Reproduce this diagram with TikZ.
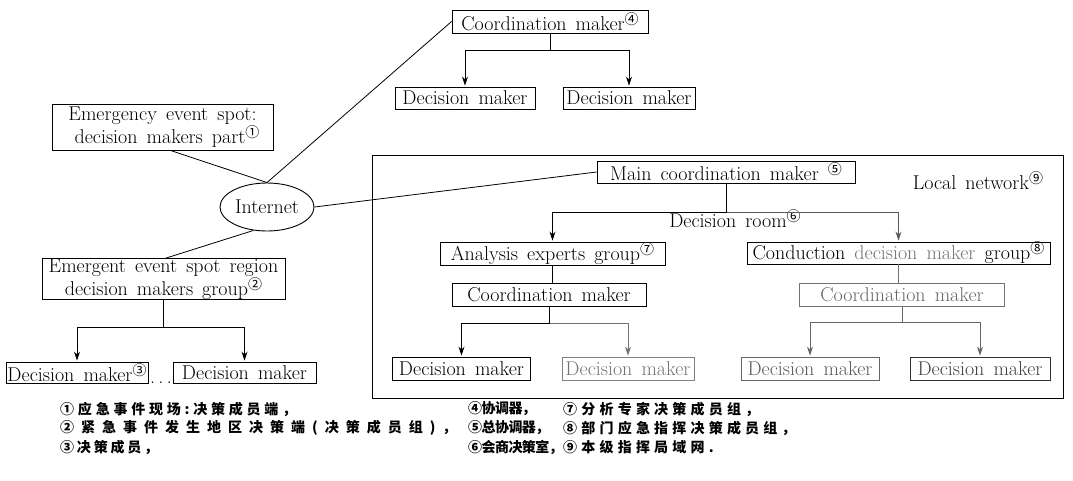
\documentclass[tikz,border=0pt]{standalone}
\usepackage{fontspec}
\setmainfont{Latin Modern Roman}[WordSpace=1.5]
\newfontfamily\dejavu{DejaVu Sans}
\newfontfamily\cjk{Noto Sans CJK SC}
\usetikzlibrary{arrows.meta,calc,shapes.geometric}
\newcommand\cnum[1]{\raisebox{0.3em}{\cjk\fontsize{14}{14}\selectfont #1}}
\newcommand\lsp[1]{\addfontfeature{LetterSpace=#1}}
\begin{document}
\begin{tikzpicture}[x=1pt,y=-1pt,
  every node/.style={font=\fontsize{20}{20}\selectfont},
  box/.style={draw, line width=0.9pt, inner sep=0pt},
  arr/.style={-{Stealth[length=9pt,width=6pt]}, line width=0.9pt, shorten >=1pt},
  ln/.style={line width=0.8pt},
  leg/.style={anchor=west, inner sep=0pt, font=\cjk\bfseries\fontsize{14}{14}\selectfont}]
\useasboundingbox (0,0) rectangle (1073,480);

% top group
\node[box, minimum width=196pt, minimum height=23pt] (c4) at (550,21.5) {Coordination maker\cnum{④}};
\node[box, minimum width=140pt, minimum height=22pt] (d41) at (465,98) {Decision maker};
\node[box, minimum width=132pt, minimum height=22pt] (d42) at (629,98) {Decision maker};

% left side
\node[box, minimum width=221pt, minimum height=46pt, align=center, font=\fontsize{20}{20}\selectfont] (e1) at (162.5,127) {Emergency event spot:\\ \ decision makers part\cnum{①}};
\node[draw, ellipse, line width=0.9pt, minimum width=94pt, minimum height=48pt, inner sep=0pt] (net) at (267,207) {Internet};
\node[box, minimum width=243pt, minimum height=38pt, align=center, font=\fontsize{20}{17}\selectfont] (e2) at (163.5,279) {Emergent event spot region\\ decision makers group\cnum{②}};
\node[box, minimum width=142pt, minimum height=21pt] (d3) at (77,372.5) {Decision maker\cnum{③}};
\node[box, minimum width=143pt, minimum height=21pt] (d32) at (244.5,372.5) {Decision maker};
\node[anchor=base, inner sep=0pt] (dots) at (161,383) {.\,.\,.};

% local network
\node[draw, line width=1pt, minimum width=691pt, minimum height=243pt, inner sep=0pt] (lan) at (717.5,276.5) {};
\node[box, minimum width=258pt, minimum height=22pt] (m5) at (726,172) {Main coordination maker \cnum{⑤}};
\node (lanlbl) at (978,181) {Local network\cnum{⑨}};
\node (room) at (735,219) {Decision room\cnum{⑥}};
\node[box, minimum width=225pt, minimum height=23pt] (a7) at (552.5,253.5) {Analysis experts group\cnum{⑦}};
\node[box, minimum width=303pt, minimum height=22pt] (g8) at (898.5,253) {Conduction {\color{black!55}decision maker} group\cnum{⑧}};
\node[box, minimum width=194pt, minimum height=23pt] (cl) at (549,295) {Coordination maker};
\node[box, draw=black!55, text=black!60, minimum width=205pt, minimum height=23pt] (cr) at (902,294.5) {Coordination maker};
\node[box, minimum width=138pt, minimum height=23pt] (dl1) at (461.5,368.5) {Decision maker};
\node[box, draw=black!50, text=black!55, minimum width=132pt, minimum height=23pt] (dl2) at (628,368.5) {Decision maker};
\node[box, draw=black!60, text=black!65, minimum width=138pt, minimum height=23pt] (dr1) at (810,368.5) {Decision maker};
\node[box, draw=black!80, text=black!75, minimum width=140pt, minimum height=23pt] (dr2) at (980,368.5) {Decision maker};

% connectors
\draw[ln] (c4.west) -- (net.north);
\draw[ln] ($(e1.south)+(8,0)$) -- (net.north);
\draw[ln] (net.east) -- (m5.west);
\draw[ln] (net.240) -- ($(e2.north)+(2,0)$);

\draw[arr] (c4.south) -- ++(0,17) -| (d41.north);
\draw[arr] (c4.south) -- ++(0,17) -| (d42.north);

\draw[arr] (e2.south) -- ++(0,28) -| (d3.north);
\draw[arr] (e2.south) -- ++(0,28) -| (d32.north);

\draw[arr, black!65] (m5.south) -- ++(0,29) -| (g8.north);
\draw[arr] (m5.south) -- ++(0,29) -| (a7.north);
\draw[ln] (a7.south) -- (a7.south |- cl.north);
\draw[ln, black!55] (g8.south) -- (g8.south |- cr.north);
\draw[arr, black!55] (cl.south) -- ++(0,16) -| (dl2.north);
\draw[arr] (cl.south) -- ++(0,16) -| (dl1.north);
\draw[arr, black!60] (cr.south) -- ++(0,16) -| (dr1.north);
\draw[arr, black!60] (cr.south) -- ++(0,16) -| (dr2.north);

% legend
\node[leg] (l1) at (60,409) {\lsp{27}①应急事件现场:决策成员端，};
\node[leg] (l2) at (60,428) {\lsp{50}②紧急事件发生地区决策端(决策成员组)，};
\node[leg] (l3) at (60,447) {\lsp{20}③决策成员，};
\node[leg] (l4) at (468,409) {\lsp{-4}④协调器，};
\node[leg] (l5) at (468,428) {\lsp{-4}⑤总协调器，};
\node[leg] (l6) at (468,447) {\lsp{-4}⑥会商决策室，};
\node[leg] (l7) at (563,409) {\lsp{30}⑦分析专家决策成员组，};
\node[leg] (l8) at (563,428) {\lsp{30}⑧部门应急指挥决策成员组，};
\node[leg] (l9) at (563,447) {\lsp{30}⑨本级指挥局域网.};
\end{tikzpicture}
\end{document}
